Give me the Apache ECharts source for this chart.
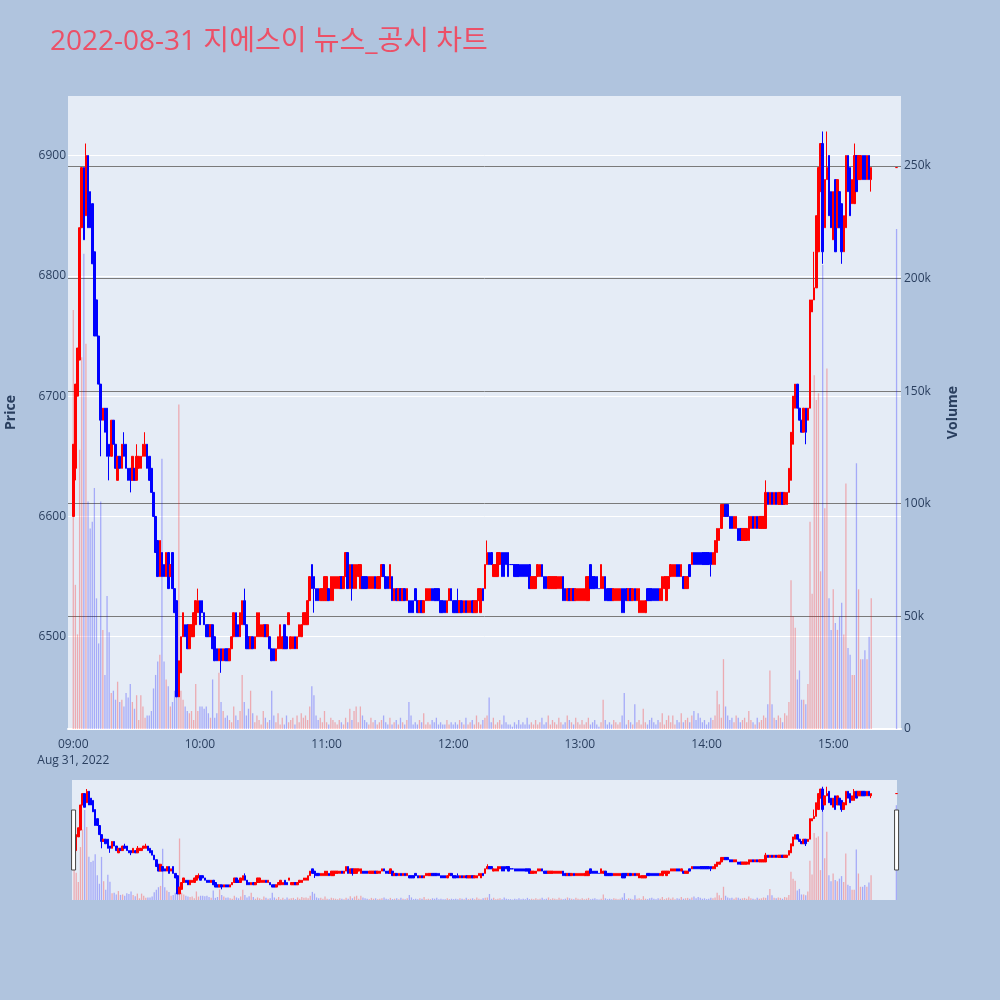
<!DOCTYPE html>
<html>
<head>
<meta charset="utf-8">
<title>2022-08-31 지에스이 뉴스_공시 차트</title>
<script src="https://cdn.jsdelivr.net/npm/echarts@6/dist/echarts.min.js"></script>
<style>
  html, body { margin: 0; padding: 0; background: #b0c4de; }
  #chart { width: 1000px; height: 1000px; }
</style>
</head>
<body>
<div id="chart"></div>
<script>
const chart = echarts.init(document.getElementById('chart'));

// One candle per minute starting at 09:00 (index = minutes after the open)
const opens = [
  6600, 6640, 6700, 6730, 6840, 6890, 6850, 6900, 6870, 6860,
  6820, 6780, 6750, 6710, 6680, 6690, 6690, 6660, 6650, 6680,
  6660, 6630, 6650, 6640, 6660, 6660, 6640, 6640, 6630, 6640,
  6630, 6640, 6640, 6650, 6650, 6660, 6650, 6640, 6620, 6600,
  6580, 6550, 6570, 6560, 6550, 6570, 6550, 6570, 6540, 6530,
  6450, 6470, 6500, 6510, 6510, 6490, 6500, 6500, 6510, 6520,
  6530, 6530, 6520, 6510, 6510, 6500, 6510, 6500, 6490, 6480,
  6490, 6480, 6490, 6490, 6480, 6490, 6500, 6520, 6510, 6500,
  6510, 6530, 6510, 6500, 6490, 6500, 6490, 6500, 6500, 6500,
  6500, 6510, 6500, 6500, 6490, 6490, 6480, 6490, 6490, 6490,
  6510, 6500, 6510, 6490, 6490, 6500, 6490, 6500, 6500, 6510,
  6510, 6510, 6530, 6560, 6550, 6540, 6540, 6530, 6530, 6530,
  6530, 6540, 6530, 6530, 6540, 6540, 6540, 6550, 6540, 6550,
  6570, 6540, 6560, 6540, 6540, 6550, 6540, 6550, 6550, 6550,
  6540, 6540, 6540, 6550, 6540, 6540, 6550, 6560, 6550, 6550,
  6540, 6550, 6530, 6540, 6530, 6540, 6530, 6540, 6530, 6530,
  6530, 6530, 6540, 6530, 6520, 6530, 6520, 6530, 6530, 6530,
  6540, 6540, 6540, 6540, 6530, 6530, 6530, 6520, 6530, 6540,
  6530, 6530, 6530, 6520, 6530, 6520, 6530, 6520, 6520, 6530,
  6520, 6520, 6530, 6520, 6540, 6540, 6560, 6570, 6570, 6550,
  6550, 6550, 6560, 6570, 6570, 6570, 6570, 6560, 6560, 6560,
  6560, 6560, 6560, 6560, 6560, 6560, 6560, 6540, 6540, 6540,
  6550, 6550, 6560, 6550, 6550, 6540, 6540, 6540, 6540, 6540,
  6540, 6540, 6550, 6540, 6530, 6540, 6530, 6540, 6530, 6530,
  6530, 6530, 6530, 6530, 6530, 6560, 6550, 6550, 6550, 6540,
  6540, 6540, 6550, 6540, 6540, 6540, 6530, 6530, 6530, 6530,
  6540, 6540, 6540, 6530, 6540, 6530, 6540, 6530, 6520, 6520,
  6520, 6520, 6540, 6540, 6540, 6540, 6540, 6540, 6530, 6530,
  6540, 6530, 6540, 6550, 6550, 6550, 6560, 6560, 6550, 6550,
  6540, 6540, 6560, 6560, 6570, 6570, 6570, 6570, 6570, 6570,
  6570, 6570, 6570, 6560, 6560, 6570, 6580, 6590, 6600, 6610,
  6610, 6600, 6600, 6590, 6590, 6590, 6590, 6580, 6580, 6580,
  6580, 6590, 6600, 6590, 6600, 6590, 6590, 6590, 6590, 6620,
  6610, 6620, 6610, 6620, 6610, 6610, 6620, 6610, 6610, 6620,
  6630, 6660, 6690, 6710, 6690, 6680, 6670, 6690, 6680, 6690,
  6770, 6780, 6790, 6820, 6870, 6910, 6840, 6880, 6900, 6870,
  6830, 6880, 6840, 6870, 6860, 6820, 6840, 6900, 6890, 6860,
  6860, 6900, 6880, 6880, 6900, 6900, 6880, 6900, 6880
];
const closes = [
  6660, 6710, 6740, 6840, 6890, 6830, 6900, 6840, 6840, 6810,
  6750, 6750, 6710, 6680, 6690, 6670, 6650, 6650, 6680, 6660,
  6640, 6650, 6640, 6660, 6650, 6640, 6630, 6630, 6650, 6630,
  6650, 6650, 6650, 6660, 6660, 6640, 6630, 6620, 6600, 6570,
  6550, 6580, 6550, 6550, 6570, 6540, 6560, 6540, 6520, 6450,
  6480, 6500, 6520, 6500, 6490, 6510, 6510, 6520, 6530, 6530,
  6510, 6520, 6510, 6500, 6500, 6510, 6490, 6480, 6480, 6490,
  6480, 6490, 6480, 6480, 6490, 6500, 6520, 6500, 6500, 6520,
  6530, 6510, 6490, 6490, 6500, 6490, 6500, 6520, 6520, 6510,
  6510, 6500, 6510, 6490, 6480, 6480, 6490, 6500, 6510, 6500,
  6490, 6490, 6520, 6500, 6500, 6490, 6500, 6510, 6510, 6520,
  6520, 6530, 6550, 6540, 6540, 6530, 6530, 6540, 6540, 6550,
  6550, 6530, 6550, 6550, 6550, 6550, 6550, 6540, 6550, 6570,
  6540, 6560, 6540, 6560, 6560, 6560, 6560, 6540, 6540, 6540,
  6550, 6550, 6550, 6540, 6550, 6550, 6560, 6550, 6540, 6540,
  6560, 6530, 6540, 6530, 6540, 6530, 6540, 6530, 6540, 6520,
  6520, 6520, 6530, 6520, 6530, 6520, 6530, 6540, 6540, 6540,
  6530, 6530, 6530, 6530, 6520, 6520, 6520, 6530, 6540, 6530,
  6520, 6520, 6520, 6530, 6520, 6530, 6520, 6530, 6530, 6520,
  6530, 6530, 6540, 6540, 6530, 6560, 6570, 6560, 6560, 6560,
  6560, 6570, 6570, 6550, 6550, 6560, 6550, 6560, 6560, 6550,
  6550, 6550, 6550, 6550, 6550, 6550, 6540, 6550, 6550, 6550,
  6560, 6560, 6550, 6540, 6540, 6550, 6550, 6550, 6550, 6550,
  6550, 6550, 6530, 6530, 6540, 6530, 6540, 6530, 6540, 6540,
  6540, 6540, 6540, 6550, 6550, 6540, 6540, 6540, 6540, 6540,
  6560, 6550, 6530, 6530, 6530, 6530, 6540, 6540, 6540, 6540,
  6520, 6520, 6530, 6540, 6530, 6540, 6530, 6540, 6540, 6530,
  6530, 6530, 6530, 6530, 6530, 6530, 6530, 6530, 6540, 6550,
  6550, 6550, 6550, 6560, 6560, 6560, 6550, 6550, 6560, 6540,
  6550, 6550, 6550, 6570, 6560, 6560, 6560, 6560, 6560, 6560,
  6560, 6560, 6560, 6570, 6580, 6590, 6590, 6610, 6610, 6600,
  6600, 6590, 6590, 6600, 6600, 6580, 6580, 6590, 6590, 6590,
  6600, 6600, 6590, 6600, 6590, 6600, 6600, 6600, 6620, 6610,
  6620, 6610, 6620, 6610, 6620, 6620, 6610, 6620, 6620, 6640,
  6670, 6700, 6710, 6690, 6680, 6670, 6690, 6670, 6690, 6780,
  6780, 6790, 6850, 6890, 6910, 6820, 6880, 6890, 6850, 6840,
  6870, 6820, 6880, 6840, 6820, 6850, 6900, 6870, 6850, 6880,
  6900, 6870, 6900, 6900, 6880, 6880, 6900, 6880, 6890
];
// Wicks that stick out beyond the body: minute index -> price
const highWicks = { 6: 6910, 24: 6670, 30: 6660, 34: 6670, 59: 6540, 81: 6540, 182: 6540,
  196: 6580, 328: 6630, 351: 6820, 355: 6920, 357: 6920, 370: 6910 };
const lowWicks = { 1: 6630, 13: 6650, 17: 6630, 27: 6620, 70: 6470, 114: 6520, 132: 6530,
  302: 6550, 347: 6660, 355: 6810, 364: 6810, 378: 6870 };
// Volume per minute, thousand shares
const volumes = [
  186, 64, 42, 124, 165, 211, 171, 101, 89, 92,
  107, 58, 38, 101, 44, 24, 59, 43, 16, 17,
  13, 21, 12, 13, 10, 16, 14, 20, 12, 9,
  15, 4, 15, 10, 5, 6, 6, 8, 18, 24,
  30, 33, 120, 30, 22, 19, 10, 12, 17, 21,
  144, 17, 13, 10, 8, 7, 8, 4, 20, 8,
  10, 10, 9, 10, 7, 5, 22, 5, 7, 25,
  12, 8, 5, 6, 4, 3, 10, 6, 4, 8,
  24, 12, 6, 9, 17, 7, 3, 6, 4, 2,
  8, 5, 3, 4, 17, 6, 3, 7, 2, 5,
  2, 6, 3, 4, 5, 2, 6, 3, 7, 5,
  6, 4, 10, 19, 15, 6, 4, 5, 3, 8,
  3, 2, 5, 4, 3, 2, 4, 3, 2, 5,
  3, 9, 4, 8, 10, 3, 10, 6, 4, 3,
  2, 5, 3, 4, 2, 3, 4, 6, 3, 2,
  5, 2, 3, 4, 2, 5, 3, 2, 4, 12,
  6, 2, 3, 2, 4, 3, 7, 2, 3, 2,
  4, 3, 5, 2, 3, 2, 2, 4, 2, 3,
  2, 3, 2, 4, 3, 2, 5, 2, 3, 4,
  2, 6, 3, 2, 4, 5, 6, 14, 3, 5,
  2, 3, 4, 2, 6, 3, 2, 2, 1, 3,
  2, 4, 2, 3, 2, 5, 2, 3, 2, 4,
  2, 3, 5, 2, 3, 6, 2, 4, 3, 2,
  5, 3, 2, 3, 6, 4, 3, 2, 5, 3,
  2, 4, 2, 3, 5, 2, 3, 4, 2, 1,
  3, 13, 4, 2, 3, 2, 4, 3, 2, 3,
  6, 16, 2, 4, 3, 2, 11, 3, 4, 2,
  9, 3, 2, 4, 5, 3, 2, 4, 3, 7,
  2, 4, 6, 3, 6, 2, 4, 3, 7, 3,
  4, 5, 3, 6, 8, 4, 7, 5, 3, 4,
  2, 3, 5, 4, 6, 17, 11, 5, 31, 10,
  6, 4, 5, 3, 6, 5, 3, 4, 5, 3,
  8, 4, 3, 2, 5, 3, 4, 6, 5, 11,
  26, 11, 5, 4, 6, 5, 3, 7, 6, 12,
  66, 50, 45, 22, 26, 13, 13, 11, 20, 92,
  60, 157, 146, 149, 70, 206, 98, 160, 58, 44,
  62, 47, 44, 50, 56, 42, 109, 36, 33, 24,
  24, 118, 62, 31, 31, 35, 31, 41, 58
];
// Closing auction at 15:30
const closingMinute = 390;
const closingPrice = 6890;
const closingVolume = 222;

const priceTicks = [6500, 6600, 6700, 6800, 6900];
const volumeTicks = [0, 50, 100, 150, 200, 250];
const timeTicks = [0, 60, 120, 180, 240, 300, 360];

const UP = '#ff0000';
const DOWN = '#0000ff';
const UP_VOL = 'rgba(255,0,0,0.28)';
const DOWN_VOL = 'rgba(0,0,255,0.28)';
const TEXT = '#2a3f5f';
const FONT = '"Open Sans", "Noto Sans CJK KR", sans-serif';

const candles = opens.map((o, i) => {
  const c = closes[i];
  const low = lowWicks[i] !== undefined ? lowWicks[i] : Math.min(o, c);
  const high = highWicks[i] !== undefined ? highWicks[i] : Math.max(o, c);
  return [i, o, c, low, high];
});
const closingCandle = [[closingMinute, closingPrice, closingPrice, closingPrice, closingPrice]];

const volumeBars = volumes.map((v, i) => ({
  value: [i, v],
  itemStyle: { color: closes[i] > opens[i] ? UP_VOL : DOWN_VOL }
}));
volumeBars.push({ value: [closingMinute, closingVolume], itemStyle: { color: DOWN_VOL } });

function timeLabel(v) {
  const h = 9 + Math.floor(v / 60);
  const m = v % 60;
  const s = String(h).padStart(2, '0') + ':' + String(m).padStart(2, '0');
  return v === 0 ? s + '\nAug 31, 2022' : s;
}

const candleStyle = {
  color: UP, color0: DOWN, borderColor: UP, borderColor0: DOWN,
  borderColorDoji: DOWN, borderWidth: 1
};
const closingStyle = Object.assign({}, candleStyle, { color0: UP, borderColor0: UP, borderColorDoji: UP });

function candleSeries(xi, yi, data, style) {
  return {
    type: 'candlestick', xAxisIndex: xi, yAxisIndex: yi,
    encode: { x: 0, y: [1, 2, 3, 4] },
    barWidth: 2, silent: true, animation: false,
    itemStyle: style, data: data
  };
}

function volumeSeries(xi, yi) {
  return {
    type: 'bar', xAxisIndex: xi, yAxisIndex: yi,
    barWidth: 1.3, silent: true, animation: false,
    data: volumeBars
  };
}

chart.setOption({
  backgroundColor: '#b0c4de',
  animation: false,
  textStyle: { fontFamily: FONT },
  title: {
    text: '2022-08-31 지에스이 뉴스_공시 차트',
    left: 45,
    top: 23,
    textStyle: { fontSize: 28, fontWeight: 'normal', color: '#ec5067', fontFamily: FONT }
  },
  grid: [
    { left: 68, right: 99, top: 96, height: 633, show: true, backgroundColor: '#e5ecf6',
      borderWidth: 0, containLabel: false, outerBoundsMode: 'none' },
    { left: 72, right: 103, top: 780, height: 120, show: true, backgroundColor: '#e5ecf6',
      borderWidth: 0, containLabel: false, outerBoundsMode: 'none' }
  ],
  xAxis: [
    {
      type: 'value', gridIndex: 0, min: -2.5, max: 392.1,
      axisLine: { show: true, lineStyle: { color: '#ffffff', width: 2 } },
      axisTick: { show: false, customValues: timeTicks },
      splitLine: { show: false },
      axisLabel: {
        customValues: timeTicks, color: TEXT, fontSize: 12, lineHeight: 16,
        margin: 8, formatter: timeLabel
      }
    },
    { type: 'value', gridIndex: 1, min: -1, max: 390.3, show: false }
  ],
  yAxis: [
    {
      type: 'value', gridIndex: 0, position: 'left', min: 6423.3, max: 6949.5,
      name: 'Price', nameLocation: 'middle', nameGap: 50, nameRotate: 90,
      nameTextStyle: { color: TEXT, fontSize: 14, fontWeight: 'bold' },
      axisLine: { show: false },
      axisTick: { show: false, customValues: priceTicks },
      axisLabel: { customValues: priceTicks, color: TEXT, fontSize: 12, margin: 2, formatter: v => String(v) },
      splitLine: { show: true, lineStyle: { color: '#ffffff', width: 1 } }
    },
    {
      type: 'value', gridIndex: 0, position: 'right', min: 0, max: 281,
      name: 'Volume', nameLocation: 'middle', nameGap: 45, nameRotate: 90,
      nameTextStyle: { color: TEXT, fontSize: 14, fontWeight: 'bold' },
      axisLine: { show: false },
      axisTick: { show: false, customValues: volumeTicks },
      axisLabel: { customValues: volumeTicks, color: TEXT, fontSize: 12, margin: 3,
        formatter: v => (v === 0 ? '0' : v + 'k') },
      splitLine: { show: true, lineStyle: { color: '#7a7a7a', width: 1 } }
    },
    { type: 'value', gridIndex: 1, min: 6423.3, max: 6949.5, show: false, splitLine: { show: false } },
    { type: 'value', gridIndex: 1, min: 0, max: 281, show: false, splitLine: { show: false } }
  ],
  dataZoom: [{
    type: 'slider', xAxisIndex: 1, filterMode: 'none', start: 0, end: 100,
    left: 72, right: 103, top: 780, height: 120,
    showDetail: false, showDataShadow: false, brushSelect: false,
    backgroundColor: 'rgba(0,0,0,0)', fillerColor: 'rgba(0,0,0,0)', borderColor: 'rgba(0,0,0,0)',
    handleIcon: 'path://M0,0H4V60H0Z', handleSize: '50%',
    handleStyle: { color: '#ffffff', borderColor: '#444444', borderWidth: 1 },
    moveHandleSize: 0,
    moveHandleStyle: { opacity: 0 }
  }],
  series: [
    volumeSeries(0, 1),
    candleSeries(0, 0, candles, candleStyle),
    candleSeries(0, 0, closingCandle, closingStyle),
    volumeSeries(1, 3),
    candleSeries(1, 2, candles, candleStyle),
    candleSeries(1, 2, closingCandle, closingStyle)
  ]
});
</script>
</body>
</html>
